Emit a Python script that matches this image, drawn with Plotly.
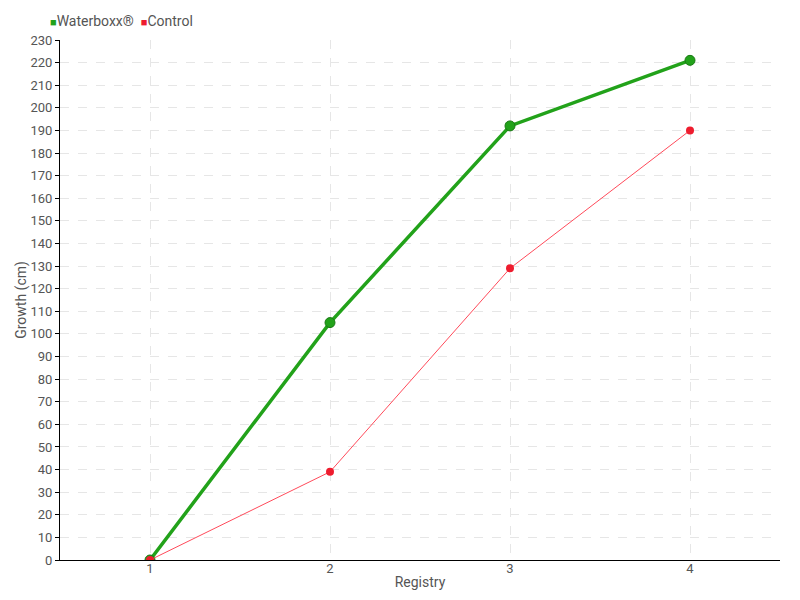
import plotly.graph_objects as go

registry = [1, 2, 3, 4]
waterboxx = [0, 105, 192, 221]
control = [0, 39, 129, 190]
y_ticks = list(range(0, 231, 10))
series_names = ["Waterboxx®", "Control"]

GREEN = "#22a21a"
RED = "#ee1c2e"
FONT = "Roboto, sans-serif"
TXT = "#555555"

fig = go.Figure()
fig.add_trace(go.Scatter(x=registry, y=waterboxx, mode="lines+markers", name=series_names[0],
                         line=dict(color=GREEN, width=3.5),
                         marker=dict(color=GREEN, size=10, line=dict(color="#1a7a14", width=1)),
                         showlegend=False))
fig.add_trace(go.Scatter(x=registry, y=control, mode="lines+markers", name=series_names[1],
                         line=dict(color="#ff4a5a", width=1),
                         marker=dict(color=RED, size=8),
                         showlegend=False))

legend_text = (f"<span style='font-size:11px;color:{GREEN}'>■</span>{series_names[0]}  "
               f"<span style='font-size:11px;color:{RED}'>■</span>{series_names[1]}")
fig.add_annotation(text=legend_text, xref="paper", yref="paper", x=-12/720, y=1 + 19/520,
                   xanchor="left", yanchor="middle", showarrow=False,
                   font=dict(size=14, color=TXT, family=FONT))

fig.update_layout(
    width=800, height=600,
    margin=dict(l=60, r=20, t=40, b=40, autoexpand=False),
    plot_bgcolor="white", paper_bgcolor="white",
    font=dict(family=FONT, size=14, color=TXT),
    showlegend=False,
    xaxis=dict(range=[0.5, 4.5], tickvals=registry, ticktext=[str(v) for v in registry],
               showgrid=True, gridcolor="#e6e6e6", griddash="dash", zeroline=False,
               showline=True, linecolor="black", linewidth=1,
               ticks="", tickfont=dict(size=13), ticklabelstandoff=-4,
               title=dict(text="Registry", standoff=2, font=dict(size=14, color=TXT))),
    yaxis=dict(range=[0, 230], tickvals=y_ticks, showgrid=True, gridcolor="#e6e6e6", griddash="dash",
               zeroline=False, showline=True, linecolor="black", linewidth=1,
               ticks="outside", ticklen=4, tickcolor="black", tickfont=dict(size=13),
               title=dict(text="Growth (cm)", standoff=0, font=dict(size=14, color=TXT))),
)

fig.write_html("out.html", config={"displayModeBar": False},
               post_script="document.body.style.margin='0';")
